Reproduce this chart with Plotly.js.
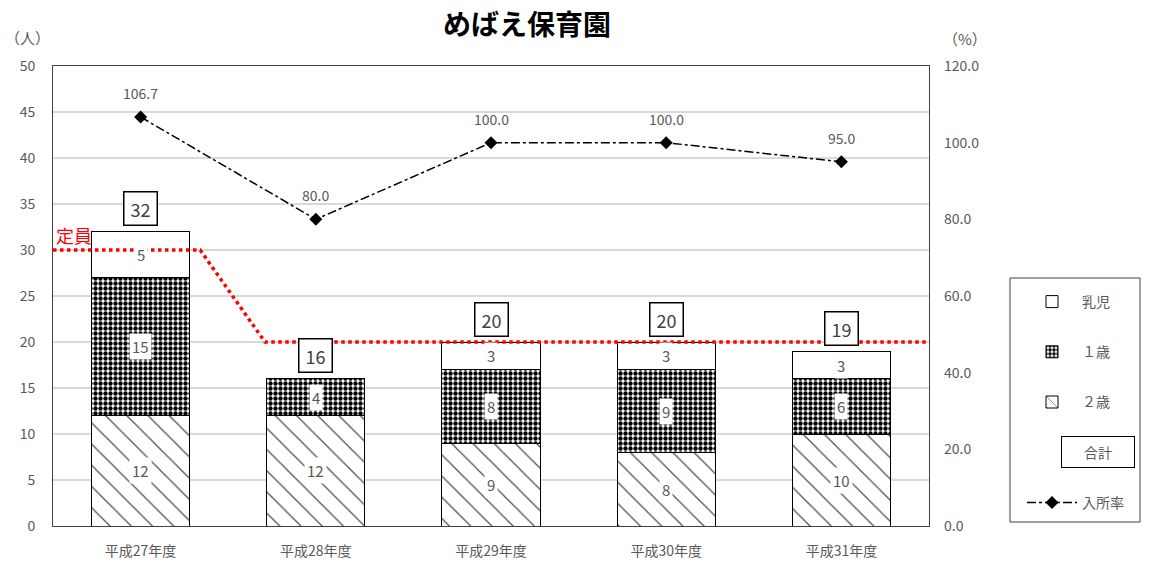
<!DOCTYPE html>
<html><head><meta charset="utf-8">
<script src="https://cdn.plot.ly/plotly-3.0.1.min.js"></script>
<style>html,body{margin:0;padding:0;background:#fff}#chart{width:1151px;height:562px}</style>
</head><body><div id="chart"></div>
<script>
const years = ['平成27年度','平成28年度','平成29年度','平成30年度','平成31年度'];
const infant = [5, 0, 3, 3, 3];      // 乳児
const age1 = [15, 4, 8, 9, 6];       // 1歳
const age2 = [12, 12, 9, 8, 10];     // 2歳
const totals = [32, 16, 20, 20, 19]; // 合計
const rate = [106.7, 80.0, 100.0, 100.0, 95.0]; // 入所率
const capacity = [30, 20, 20, 20, 20]; // 定員

const xs = years.map((_, i) => i);
const FONT = '"Noto Sans CJK JP", "Noto Sans", sans-serif';
const GRAY = '#595959';

// capacity line path (step with sloped transitions)
const capX = [], capY = [];
capacity.forEach((c, i) => {
  capX.push(i === 0 ? -0.5 : i - 0.29); capY.push(c);
  capX.push(i === capacity.length - 1 ? 4.5 : i + 0.34); capY.push(c);
});

const barLine = {color: '#000', width: 1};
const traces = [
  {type: 'bar', name: '２歳', x: xs, y: age2, width: 0.56, legendrank: 3, legendgroup: 'g3',
   marker: {color: '#fff', line: barLine, pattern: {shape: '\\', fgcolor: '#000', bgcolor: '#fff', size: 15, solidity: 0.08, fgopacity: 0.7}}},
  {type: 'bar', name: '１歳', x: xs, y: age1, width: 0.56, legendrank: 2, legendgroup: 'g2',
   marker: {color: '#fff', line: barLine, pattern: {shape: '.', fgcolor: '#000', bgcolor: '#fff', size: 5, solidity: 0.6}}},
  {type: 'bar', name: '乳児', x: xs, y: infant, width: 0.56, legendrank: 1, legendgroup: 'g1',
   marker: {color: '#fff', line: barLine}},
  {type: 'scatter', name: ' ', x: [null], y: [null], mode: 'markers', legendrank: 4, legendgroup: 'g4',
   marker: {color: 'rgba(0,0,0,0)', line: {width: 0}}, hoverinfo: 'skip'},
  {type: 'scatter', name: '入所率', x: xs, y: rate, yaxis: 'y2', mode: 'lines+markers', legendrank: 5, legendgroup: 'g5',
   line: {color: '#000', width: 1.5, dash: 'dashdot'}, marker: {symbol: 'diamond', size: 10, color: '#000'}},
  {type: 'scatter', name: '定員', x: capX, y: capY, mode: 'lines', showlegend: false,
   line: {color: '#ff0000', width: 3.5, dash: 'dot'}, hoverinfo: 'skip'}
];

const ann = [];
const segFont = {family: FONT, size: 15, color: GRAY};
xs.forEach((x, i) => {
  const segs = [[age2[i], 0], [age1[i], age2[i]], [infant[i], age2[i] + age1[i]]];
  segs.forEach(([v, base]) => {
    if (v > 0) ann.push({x: x, y: base + v / 2, text: String(v), showarrow: false, font: segFont, bgcolor: '#fff', borderpad: 2});
  });
  ann.push({x: x, y: totals[i], yshift: 23, text: String(totals[i]), showarrow: false,
    font: {family: FONT, size: 18, color: '#404040'}, bgcolor: '#fff', bordercolor: '#000', borderwidth: 1.5, borderpad: 3, width: 26});
  ann.push({x: x, y: rate[i], yref: 'y2', yshift: 24, text: rate[i].toFixed(1), showarrow: false,
    font: {family: FONT, size: 14, color: GRAY}});
});
ann.push({x: -0.5, y: capacity[0], xanchor: 'left', yanchor: 'bottom', yshift: 0, xshift: 1, text: '定員', showarrow: false,
  font: {family: FONT, size: 18, color: '#ff0000'}});
ann.push({xref: 'paper', yref: 'paper', x: 0, y: 1, xanchor: 'center', yanchor: 'middle', xshift: -26, yshift: 29, text: '（人）', showarrow: false,
  font: {family: FONT, size: 15, color: GRAY}});
ann.push({xref: 'paper', yref: 'paper', x: 1, y: 1, xanchor: 'center', yanchor: 'middle', xshift: 36, yshift: 28, text: '（%）', showarrow: false,
  font: {family: FONT, size: 15, color: GRAY}});
ann.push({xref: 'paper', yref: 'paper', x: (1098 - 53) / 876, y: (526 - 452) / 460, xanchor: 'center', yanchor: 'middle', text: '合計', showarrow: false,
  font: {family: FONT, size: 14, color: GRAY}, bordercolor: '#000', borderwidth: 1, borderpad: 5, width: 62, bgcolor: '#fff'});

const layout = {
  width: 1151, height: 562,
  margin: {l: 53, r: 222, t: 66, b: 36},
  paper_bgcolor: '#fff', plot_bgcolor: '#fff',
  font: {family: FONT, color: GRAY},
  title: {text: '<b>めばえ保育園</b>', x: 527 / 1151, xref: 'container', xanchor: 'center', y: 0.955, yanchor: 'middle',
    font: {family: FONT, size: 28, color: '#000'}},
  barmode: 'stack',
  showlegend: true,
  legend: {x: (1022 - 53) / 876, xanchor: 'left', y: (526 - 286) / 460, yanchor: 'top',
    borderwidth: 0, bgcolor: 'rgba(0,0,0,0)', traceorder: 'grouped', tracegroupgap: 29,
    font: {family: FONT, size: 14, color: GRAY}, itemwidth: 50},
  shapes: [{type: 'rect', xref: 'paper', yref: 'paper', x0: (1010 - 53) / 876, x1: (1140 - 53) / 876,
    y0: (526 - 522) / 460, y1: (526 - 278) / 460, line: {color: '#404040', width: 1}, fillcolor: 'rgba(0,0,0,0)', layer: 'below'}],
  xaxis: {range: [-0.5, 4.5], tickvals: xs, ticktext: years, showgrid: false, zeroline: false,
    showline: true, mirror: true, linecolor: '#404040', linewidth: 1, ticks: '', ticklabelstandoff: 12,
    tickfont: {family: FONT, size: 14, color: GRAY}, fixedrange: true},
  yaxis: {range: [0, 50], dtick: 5, showgrid: true, gridcolor: '#d9d9d9', gridwidth: 1.5, zeroline: false,
    showline: true, mirror: true, linecolor: '#404040', linewidth: 1, ticks: '', ticklabelstandoff: 14,
    tickfont: {family: FONT, size: 14, color: GRAY}},
  yaxis2: {range: [0, 120], dtick: 20, tickformat: '.1f', overlaying: 'y', side: 'right', showgrid: false, zeroline: false,
    showline: false, ticks: '', ticklabelstandoff: 14, tickfont: {family: FONT, size: 14, color: GRAY}},
  annotations: ann
};
Plotly.newPlot('chart', traces, layout, {displayModeBar: false, staticPlot: true});
</script></body></html>
